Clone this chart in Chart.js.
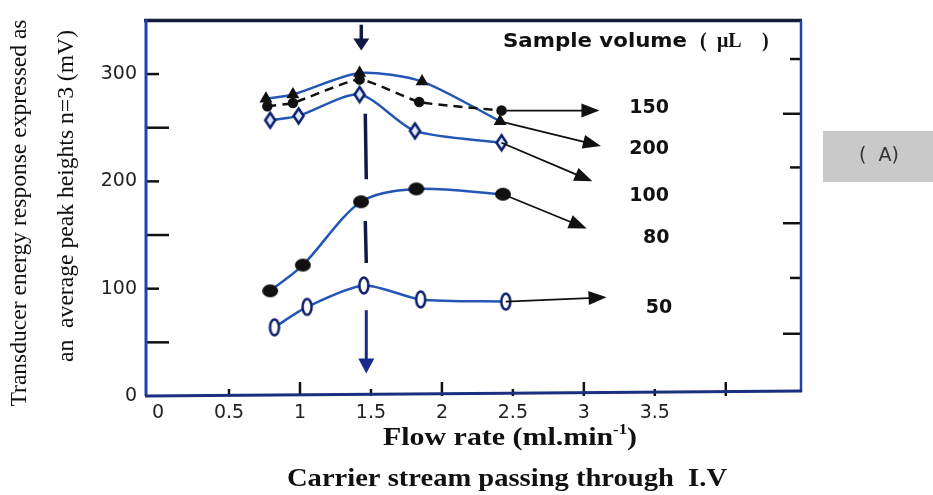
<!DOCTYPE html>
<html>
<head>
<meta charset="utf-8">
<script src="https://cdn.jsdelivr.net/npm/chart.js@4.4.1/dist/chart.umd.min.js"></script>
<style>
  html, body { margin: 0; padding: 0; background: #fff; }
  #wrap { width: 933px; height: 495px; }
</style>
</head>
<body>
<div id="wrap"><canvas id="chart" width="933" height="495"></canvas></div>
<script>
// sample volumes (uL), flow rate (ml/min) and peak height (mV) per series
const volumes = ['150', '200', '100', '80', '50'];

const flow150 = [0.77, 0.95, 1.42, 1.84, 2.42];
const resp150 = [270, 273, 295, 274, 266];
const flow200 = [0.76, 0.95, 1.42, 1.86, 2.41];
const resp200 = [277, 281, 301, 293, 256];
const flow100 = [0.79, 0.99, 1.42, 1.81, 2.42];
const resp100 = [257, 261, 281, 247, 236];
const flow80 = [0.79, 1.02, 1.43, 1.82, 2.43];
const resp80 = [98, 122, 181, 193, 188];
const flow50 = [0.82, 1.05, 1.45, 1.85, 2.45];
const resp50 = [64, 83, 103, 90, 88];

const xTicks = [0, 0.5, 1, 1.5, 2, 2.5, 3, 3.5];
const xMarks = [0.5, 1, 1.5, 2, 2.5, 3, 3.5, 4];
const yTicks = [0, 100, 200, 300];
const yMarks = [50, 100, 150, 200, 250, 300];
const rightMarks = [58, 110, 161, 213, 263, 314];

// pointer arrows: end of each series -> tip, then the volume written beside it
const arrowTips = [[3.11, 266], [3.12, 233], [3.06, 200], [3.02, 156], [3.16, 92]];
const labelAt = [[3.46, 268], [3.46, 230], [3.46, 186], [3.51, 147], [3.53, 82]];

// optimum flow guide
const guideFlow = 1.46;
const guideTopArrow = [346, 322];
const guideDashes = [[263, 202], [163, 124]];
const guideBottomArrow = [80, 21];

const LINE_BLUE = '#2457b5';
const NAVY = '#0d1f6b';

function pairs(xs, ys) { return xs.map((x, i) => ({ x: x, y: ys[i] })); }

function ovalMark(w, h, fill, stroke, lw) {
  const pad = lw || 0;
  const c = document.createElement('canvas');
  c.width = Math.ceil(w + pad * 2 + 2);
  c.height = Math.ceil(h + pad * 2 + 2);
  const g = c.getContext('2d');
  g.beginPath();
  g.ellipse(c.width / 2, c.height / 2, w / 2, h / 2, 0, 0, Math.PI * 2);
  g.fillStyle = fill;
  g.fill();
  if (stroke) { g.lineWidth = lw; g.strokeStyle = stroke; g.stroke(); }
  return c;
}

function diamondMark(w, h, fill, stroke, lw) {
  const c = document.createElement('canvas');
  c.width = Math.ceil(w + lw * 2 + 2);
  c.height = Math.ceil(h + lw * 2 + 2);
  const g = c.getContext('2d');
  const cx = c.width / 2, cy = c.height / 2;
  g.beginPath();
  g.moveTo(cx, cy - h / 2);
  g.lineTo(cx + w / 2, cy);
  g.lineTo(cx, cy + h / 2);
  g.lineTo(cx - w / 2, cy);
  g.closePath();
  g.fillStyle = fill;
  g.fill();
  g.lineWidth = lw;
  g.strokeStyle = stroke;
  g.stroke();
  return c;
}

// draw text squeezed/stretched to a given width
function drawFit(ctx, text, x, y, width, align) {
  const w = ctx.measureText(text).width;
  const sx = width / w;
  ctx.save();
  ctx.translate(x, y);
  ctx.scale(sx, 1);
  ctx.textAlign = align || 'center';
  ctx.fillText(text, 0, 0);
  ctx.restore();
}

function arrowHead(ctx, x0, y0, x1, y1, len, half) {
  const a = Math.atan2(y1 - y0, x1 - x0);
  ctx.beginPath();
  ctx.moveTo(x1, y1);
  ctx.lineTo(x1 - len * Math.cos(a) + half * Math.sin(a), y1 - len * Math.sin(a) - half * Math.cos(a));
  ctx.lineTo(x1 - len * Math.cos(a) - half * Math.sin(a), y1 - len * Math.sin(a) + half * Math.cos(a));
  ctx.closePath();
  ctx.fill();
}

const series = [
  { flow: flow150, resp: resp150 },
  { flow: flow200, resp: resp200 },
  { flow: flow100, resp: resp100 },
  { flow: flow80, resp: resp80 },
  { flow: flow50, resp: resp50 }
];

const framePlugin = {
  id: 'frame',
  beforeDatasetsDraw(chart) {
    const { ctx, chartArea: a, scales: { x, y } } = chart;
    ctx.save();
    ctx.lineCap = 'butt';
    // inner tick marks
    ctx.strokeStyle = '#111';
    ctx.lineWidth = 2.5;
    yMarks.forEach(v => {
      const py = y.getPixelForValue(v);
      const len = v % 100 === 0 ? 13 : 23;
      ctx.beginPath(); ctx.moveTo(a.left, py); ctx.lineTo(a.left + len, py); ctx.stroke();
    });
    rightMarks.forEach((v, i) => {
      const py = y.getPixelForValue(v);
      const len = i % 2 === 0 ? 18 : 11;
      ctx.beginPath(); ctx.moveTo(a.right, py); ctx.lineTo(a.right - len, py); ctx.stroke();
    });
    xMarks.forEach(v => {
      const px = x.getPixelForValue(v);
      const len = Number.isInteger(v) ? 14 : 7;
      ctx.beginPath(); ctx.moveTo(px, a.bottom); ctx.lineTo(px, a.bottom - len); ctx.stroke();
    });
    // box
    ctx.lineWidth = 3.5;
    ctx.strokeStyle = '#141d3c';
    ctx.beginPath(); ctx.moveTo(a.left - 2, a.top); ctx.lineTo(a.right + 1, a.top); ctx.stroke();
    ctx.lineWidth = 3;
    ctx.strokeStyle = '#1f45a8';
    ctx.beginPath(); ctx.moveTo(a.left, a.top - 1); ctx.lineTo(a.left, a.bottom); ctx.stroke();
    ctx.lineWidth = 2.5;
    ctx.beginPath(); ctx.moveTo(a.right, a.top); ctx.lineTo(a.right, a.bottom - 4); ctx.stroke();
    ctx.lineWidth = 3;
    ctx.strokeStyle = '#1b2f80';
    ctx.beginPath(); ctx.moveTo(a.left - 1, a.bottom); ctx.lineTo(a.right + 1, a.bottom - 5); ctx.stroke();
    ctx.restore();
  },
  afterDatasetsDraw(chart) {
    const { ctx, scales: { x, y } } = chart;
    ctx.save();
    // pointer arrows and volume labels
    ctx.strokeStyle = '#111';
    ctx.fillStyle = '#111';
    ctx.lineWidth = 1.8;
    series.forEach((s, i) => {
      const n = s.flow.length - 1;
      const x0 = x.getPixelForValue(s.flow[n]), y0 = y.getPixelForValue(s.resp[n]);
      const x1 = x.getPixelForValue(arrowTips[i][0]), y1 = y.getPixelForValue(arrowTips[i][1]);
      const a = Math.atan2(y1 - y0, x1 - x0);
      ctx.beginPath(); ctx.moveTo(x0, y0); ctx.lineTo(x1 - 12 * Math.cos(a), y1 - 12 * Math.sin(a)); ctx.stroke();
      arrowHead(ctx, x0, y0, x1, y1, 18, 7);
      ctx.font = 'bold 19px "DejaVu Sans"';
      ctx.textAlign = 'center';
      ctx.textBaseline = 'middle';
      ctx.fillText(volumes[i], x.getPixelForValue(labelAt[i][0]), y.getPixelForValue(labelAt[i][1]));
    });

    // optimum flow guide
    const gx = x.getPixelForValue(guideFlow);
    ctx.strokeStyle = '#111a44';
    ctx.fillStyle = '#111a44';
    ctx.lineWidth = 3.5;
    let t0 = y.getPixelForValue(guideTopArrow[0]), t1 = y.getPixelForValue(guideTopArrow[1]);
    ctx.beginPath(); ctx.moveTo(gx - 4, t0); ctx.lineTo(gx - 4, t1 - 8); ctx.stroke();
    arrowHead(ctx, gx - 4, t0, gx - 4, t1, 12, 8);
    guideDashes.forEach(d => {
      ctx.beginPath();
      ctx.moveTo(gx, y.getPixelForValue(d[0]));
      ctx.lineTo(gx + 1, y.getPixelForValue(d[1]));
      ctx.stroke();
    });
    ctx.strokeStyle = '#1a2a8a';
    ctx.fillStyle = '#1a2a8a';
    ctx.lineWidth = 3;
    t0 = y.getPixelForValue(guideBottomArrow[0]); t1 = y.getPixelForValue(guideBottomArrow[1]);
    ctx.beginPath(); ctx.moveTo(gx + 1, t0); ctx.lineTo(gx + 1, t1 - 10); ctx.stroke();
    arrowHead(ctx, gx + 1, t0, gx + 1, t1, 15, 8);

    // legend heading
    ctx.fillStyle = '#111';
    ctx.textBaseline = 'middle';
    ctx.font = 'bold 19px "DejaVu Sans"';
    drawFit(ctx, 'Sample volume', 503, 42, 184, 'left');
    ctx.font = 'bold 20px "Liberation Serif"';
    ctx.textAlign = 'left';
    ctx.fillText('(', 700, 42);
    ctx.fillText('\u03bcL', 717, 42);
    ctx.fillText(')', 762, 42);
    ctx.restore();
  },
  afterDraw(chart) {
    const ctx = chart.ctx;
    ctx.save();
    ctx.fillStyle = '#111';
    ctx.textBaseline = 'middle';

    // y title, two rotated lines
    ctx.font = '24px "Liberation Serif"';
    ctx.save();
    ctx.translate(20, 213);
    ctx.rotate(-Math.PI / 2);
    drawFit(ctx, 'Transducer energy response expressed as', 0, 0, 387, 'center');
    ctx.restore();
    ctx.save();
    ctx.translate(67, 196);
    ctx.rotate(-Math.PI / 2);
    drawFit(ctx, 'an  average peak heights n=3 (mV)', 0, 0, 332, 'center');
    ctx.restore();

    // x title with superscript
    const main = 'Flow rate (ml.min', sup = '-1', close = ')';
    ctx.font = 'bold 25px "Liberation Serif"';
    const w1 = ctx.measureText(main).width, w3 = ctx.measureText(close).width;
    ctx.font = 'bold 14px "Liberation Serif"';
    const w2 = ctx.measureText(sup).width;
    const sx = 254 / (w1 + w2 + w3);
    ctx.save();
    ctx.translate(383, 439);
    ctx.scale(sx, 1);
    ctx.textAlign = 'left';
    ctx.font = 'bold 25px "Liberation Serif"';
    ctx.fillText(main, 0, 0);
    ctx.font = 'bold 14px "Liberation Serif"';
    ctx.fillText(sup, w1, -9);
    ctx.font = 'bold 25px "Liberation Serif"';
    ctx.fillText(close, w1 + w2, 0);
    ctx.restore();

    // caption
    ctx.font = 'bold 25px "Liberation Serif"';
    drawFit(ctx, 'Carrier stream passing through  I.V', 287, 480, 440, 'left');

    // panel tag
    ctx.fillStyle = '#c9c9c9';
    ctx.fillRect(823, 131, 110, 51);
    ctx.fillStyle = '#333';
    ctx.font = '19px "DejaVu Sans"';
    ctx.textAlign = 'center';
    ctx.fillText('(  A)', 879, 156);
    ctx.restore();
  }
};

const tickFont = { family: '"DejaVu Sans"', size: 19 };

new Chart(document.getElementById('chart'), {
  type: 'line',
  data: {
    datasets: [
      {
        label: volumes[0], data: pairs(flow150, resp150),
        borderColor: '#111', borderWidth: 2.5, borderDash: [9, 6], tension: 0.15,
        pointStyle: 'circle', pointRadius: 4, pointBackgroundColor: '#111', pointBorderColor: '#111'
      },
      {
        label: volumes[1], data: pairs(flow200, resp200),
        borderColor: LINE_BLUE, borderWidth: 2.5, tension: 0.25,
        pointStyle: 'triangle', pointRadius: 5, pointBackgroundColor: '#111', pointBorderColor: '#111'
      },
      {
        label: volumes[2], data: pairs(flow100, resp100),
        borderColor: LINE_BLUE, borderWidth: 2.5, tension: 0.25,
        pointStyle: diamondMark(10, 15, '#dfe8ff', NAVY, 2.5)
      },
      {
        label: volumes[3], data: pairs(flow80, resp80),
        borderColor: LINE_BLUE, borderWidth: 2.5, tension: 0.3,
        pointStyle: ovalMark(16, 13, '#111', null, 0)
      },
      {
        label: volumes[4], data: pairs(flow50, resp50),
        borderColor: LINE_BLUE, borderWidth: 2.5, tension: 0.25,
        pointStyle: ovalMark(9, 16, '#fff', NAVY, 2.5)
      }
    ]
  },
  options: {
    responsive: false,
    animation: false,
    layout: { padding: { top: 19, right: 132, bottom: 0, left: 0 } },
    plugins: { legend: { display: false }, tooltip: { enabled: false } },
    scales: {
      x: {
        type: 'linear', min: -0.085, max: 4.53,
        grid: { display: false, drawTicks: false },
        border: { display: false },
        afterBuildTicks: s => { s.ticks = xTicks.map(v => ({ value: v })); },
        afterFit: s => { s.height = 99; },
        ticks: { font: tickFont, color: '#222', padding: 6, maxRotation: 0, autoSkip: false,
                 callback: v => String(v) }
      },
      y: {
        type: 'linear', min: 0, max: 350,
        grid: { display: false, drawTicks: false },
        border: { display: false },
        afterBuildTicks: s => { s.ticks = yTicks.map(v => ({ value: v })); },
        afterFit: s => { s.width = 146; },
        ticks: { font: tickFont, color: '#222', padding: 9, callback: v => String(v) }
      }
    }
  },
  plugins: [framePlugin]
});
</script>
</body>
</html>
